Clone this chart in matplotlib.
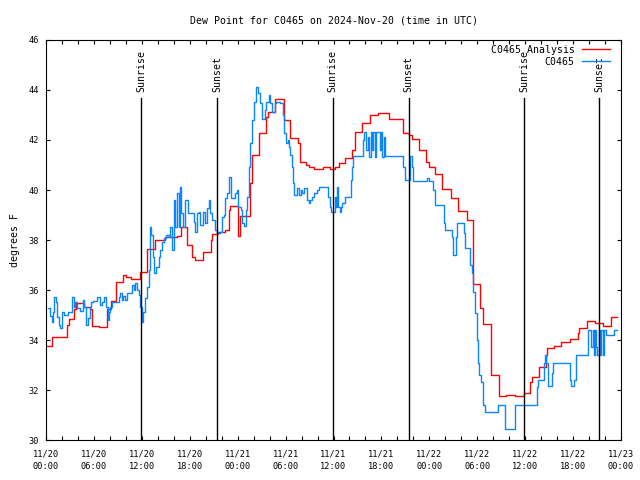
import matplotlib
matplotlib.use('Agg')
import matplotlib.pyplot as plt
import numpy as np

plt.rcParams['font.family'] = ['DejaVu Sans Mono']

# hours since 2024-11-20 00:00 UTC
analysis_h = [0.0, 0.7, 2.6, 2.85, 3.5, 3.7, 4.8, 5.5, 5.75, 6.6, 7.6, 8.1, 8.8, 9.7, 10.0, 10.6,
              11.8, 12.6, 13.7, 14.9, 16.4, 16.9, 17.7, 18.3, 18.6, 19.65, 20.6, 20.8, 21.5, 22.4,
              22.9, 23.1, 24.0, 24.3, 25.6, 25.8, 26.7, 27.6, 27.8, 28.7, 29.8, 30.6, 31.6, 31.8,
              32.6, 32.9, 33.6, 34.7, 35.6, 36.2, 36.7, 37.5, 38.3, 38.7, 39.6, 40.6, 41.6, 42.9,
              44.7, 45.4, 45.8, 46.7, 47.6, 47.9, 48.7, 49.6, 50.7, 51.6, 52.7, 53.5, 54.4, 54.7,
              55.7, 56.7, 57.6, 58.7, 59.8, 60.6, 60.8, 61.7, 62.6, 62.7, 63.6, 64.5, 65.6, 66.6,
              66.8, 67.7, 68.7, 69.7, 70.7, 71.5]
analysis_v = [33.75, 34.1, 34.6, 34.83, 35.23, 35.47, 35.33, 35.25, 34.55, 34.5, 35.25, 35.56, 36.33,
              36.6, 36.53, 36.44, 36.73, 37.64, 38.0, 38.1, 38.15, 38.53, 37.8, 37.33, 37.2, 37.53,
              38.0, 38.24, 38.3, 38.4, 39.2, 39.36, 38.16, 38.95, 40.27, 41.4, 42.27, 42.93, 43.13,
              43.63, 42.8, 42.07, 41.87, 41.13, 41.0, 40.93, 40.84, 40.9, 40.84, 40.9, 41.07, 41.27,
              41.6, 42.33, 42.67, 43.0, 43.07, 42.83, 42.27, 42.2, 42.03, 41.6, 41.13, 40.93, 40.64,
              40.03, 39.67, 39.16, 38.8, 36.24, 35.3, 34.64, 32.6, 31.76, 31.8, 31.76, 31.86, 32.33,
              32.5, 32.93, 33.4, 33.67, 33.76, 33.9, 34.03, 34.27, 34.47, 34.76, 34.67, 34.56, 34.9,
              34.9]

obs_h = [0.21, 0.55, 0.76, 0.88, 1.05, 1.21, 1.38, 1.59, 1.8, 2.0, 2.22, 2.72, 3.26, 3.47, 3.68,
         3.88, 4.22, 4.63, 4.8, 5.0, 5.2, 5.47, 5.64, 5.9, 6.4, 6.72, 7.0, 7.22, 7.55, 7.72, 7.89,
         8.06, 8.27, 9.1, 9.3, 9.5, 9.7, 9.9, 10.1, 10.77, 10.98, 11.2, 11.4, 11.6, 11.8, 12.02,
         12.2, 12.4, 12.65, 12.85, 13.06, 13.2, 13.4, 13.56, 13.8, 14.1, 14.3, 14.5, 14.8, 15.06,
         15.35, 15.57, 15.77, 15.98, 16.2, 16.4, 16.6, 16.73, 16.9, 17.15, 17.36, 17.78, 18.3,
         18.5, 18.7, 18.9, 19.1, 19.24, 19.65, 19.95, 20.15, 20.36, 20.57, 20.78, 21.2, 21.4,
         21.8, 22.03, 22.24, 22.45, 22.65, 22.86, 23.16, 23.7, 23.9, 24.1, 24.37, 24.58, 24.8,
         25.0, 25.2, 25.4, 25.6, 25.83, 26.0, 26.25, 26.6, 26.75, 27.0, 27.1, 27.4, 27.58, 27.9,
         28.08, 28.25, 28.67, 28.8, 29.25, 29.7, 29.83, 30.0, 30.25, 30.4, 30.55, 30.75, 30.9,
         31.04, 31.46, 31.67, 31.88, 32.1, 32.3, 32.7, 32.92, 33.1, 33.3, 33.5, 33.96, 34.17,
         35.2, 35.34, 35.5, 35.67, 36.17, 36.34, 36.47, 36.6, 36.76, 36.88, 37.1, 37.5, 38.13,
         38.26, 38.43, 39.68, 39.8, 40.1, 40.35, 40.5, 40.68, 40.85, 41.0, 41.2, 41.35, 41.77,
         41.93, 42.1, 42.3, 42.5, 44.72, 45.0, 45.64, 45.77, 45.93, 47.72, 47.93, 48.52, 48.69,
         49.86, 49.94, 50.8, 50.94, 51.3, 51.44, 52.36, 52.44, 53.1, 53.3, 53.5, 53.74, 53.95,
         54.12, 54.24, 54.45, 54.66, 54.95, 56.62, 57.3, 57.45, 58.7, 61.45, 61.54, 61.66, 62.37,
         62.5, 62.62, 62.8, 62.92, 63.3, 63.46, 65.63, 65.7, 66.13, 66.42, 67.88, 68.2, 68.46,
         68.63, 68.75, 68.92, 69.05, 69.25, 69.38, 69.55, 69.72, 69.89, 70.1, 71.14, 71.55]
obs_v = [35.27, 34.95, 34.73, 35.13, 35.73, 35.53, 34.93, 34.6, 34.47, 35.13, 35.0, 35.13, 35.71,
         35.33, 35.53, 35.27, 35.17, 35.6, 35.33, 34.6, 34.87, 35.33, 35.53, 35.57, 35.73, 35.4,
         35.53, 35.73, 35.33, 34.8, 35.13, 35.33, 35.53, 35.73, 35.89, 35.6, 35.76, 35.6, 35.89,
         36.2, 36.0, 36.27, 36.0, 35.8, 35.33, 34.73, 35.13, 35.67, 36.13, 36.8, 38.53, 38.2,
         37.33, 36.67, 36.93, 37.33, 37.6, 37.93, 38.07, 38.2, 38.13, 38.53, 37.6, 39.6, 38.53,
         39.87, 38.53, 40.1, 39.07, 38.53, 39.6, 39.07, 39.07, 38.73, 38.33, 39.07, 39.13, 38.6,
         39.13, 38.67, 39.27, 39.6, 39.07, 38.8, 38.4, 38.27, 38.33, 38.93, 39.0, 39.67, 39.87,
         40.53, 39.67, 39.87, 40.0, 39.33, 39.2, 38.67, 38.56, 39.2, 39.73, 40.93, 41.87, 42.8,
         43.53, 44.13, 43.87, 43.47, 43.07, 42.83, 43.2, 43.53, 43.8, 43.47, 43.13, 43.47, 43.53,
         43.47, 43.0, 42.27, 41.87, 42.0, 41.73, 41.4, 40.93, 40.27, 39.8, 40.07, 39.8, 40.0,
         39.87, 40.07, 39.6, 39.47, 39.6, 39.73, 39.87, 40.0, 40.1, 40.1, 39.73, 39.33, 39.13,
         39.73, 39.33, 40.13, 39.33, 39.13, 39.33, 39.47, 39.73, 40.4, 40.93, 41.36, 42.0, 42.33,
         41.6, 42.13, 41.33, 42.33, 41.6, 42.33, 41.33, 42.33, 41.6, 42.33, 41.33, 42.13, 41.36,
         40.93, 40.4, 41.36, 40.93, 40.36, 40.47, 40.36, 40.0, 39.4, 38.67, 38.4, 38.13, 37.4,
         38.13, 38.67, 38.27, 37.67, 37.0, 36.67, 35.93, 35.07, 34.0, 33.07, 32.6, 32.33, 31.4,
         31.13, 31.4, 31.4, 30.43, 31.4, 31.4, 32.13, 32.4, 33.07, 33.4, 33.07, 32.4, 32.16,
         32.67, 33.09, 32.4, 32.16, 32.4, 33.39, 34.4, 33.73, 34.4, 33.4, 34.4, 33.73, 33.4,
         34.4, 33.4, 34.4, 33.4, 34.4, 34.2, 34.4, 34.4]

sun_h = [11.9, 21.4, 35.9, 45.4, 59.9, 69.3]
sun_labels = ['Sunrise', 'Sunset', 'Sunrise', 'Sunset', 'Sunrise', 'Sunset']

tick_h = list(range(0, 73, 6))
tick_labels = ['11/20\n00:00', '11/20\n06:00', '11/20\n12:00', '11/20\n18:00',
               '11/21\n00:00', '11/21\n06:00', '11/21\n12:00', '11/21\n18:00',
               '11/22\n00:00', '11/22\n06:00', '11/22\n12:00', '11/22\n18:00',
               '11/23\n00:00']

fig = plt.figure(figsize=(6.4, 4.8), dpi=100)
ax = fig.add_axes([46 / 640, 40 / 480, 575 / 640, 400 / 480])

ax.plot(analysis_h, analysis_v, color='#ff0000', linewidth=1.0, drawstyle='steps-post',
        label='C0465 Analysis')
ax.plot(obs_h, obs_v, color='#0a85ff', linewidth=1.0, drawstyle='steps-post', label='C0465')

# sunrise / sunset markers
for h, lab in zip(sun_h, sun_labels):
    ax.plot([h, h], [30, 43.68], color='black', linewidth=1.0)
    ax.text(h, 43.9, lab, rotation=90, ha='center', va='bottom', fontsize=7.1)

ax.set_xlim(0, 72)
ax.set_ylim(30, 46)
ax.set_xticks(tick_h)
ax.set_xticklabels(tick_labels, fontsize=6.2, linespacing=1.45)
ax.set_xticks(range(0, 73, 2), minor=True)
ax.set_yticks(range(30, 47, 2))
ax.tick_params(axis='y', labelsize=6.2, pad=5)
ax.tick_params(axis='x', pad=7)
ax.tick_params(which='both', direction='in', top=True, right=True, length=3, width=0.8)

ax.set_ylabel('degrees F', fontsize=7.1, labelpad=6)
ax.set_title('Dew Point for C0465 on 2024-Nov-20 (time in UTC)', fontsize=7.1, pad=12)

ax.legend(loc='upper right', bbox_to_anchor=(0.981, 0.988), frameon=False, markerfirst=False,
          fontsize=7.1, handlelength=2.8, handletextpad=0.8, labelspacing=0.2,
          borderpad=0, borderaxespad=0)

fig.savefig('out.png', dpi=100)
